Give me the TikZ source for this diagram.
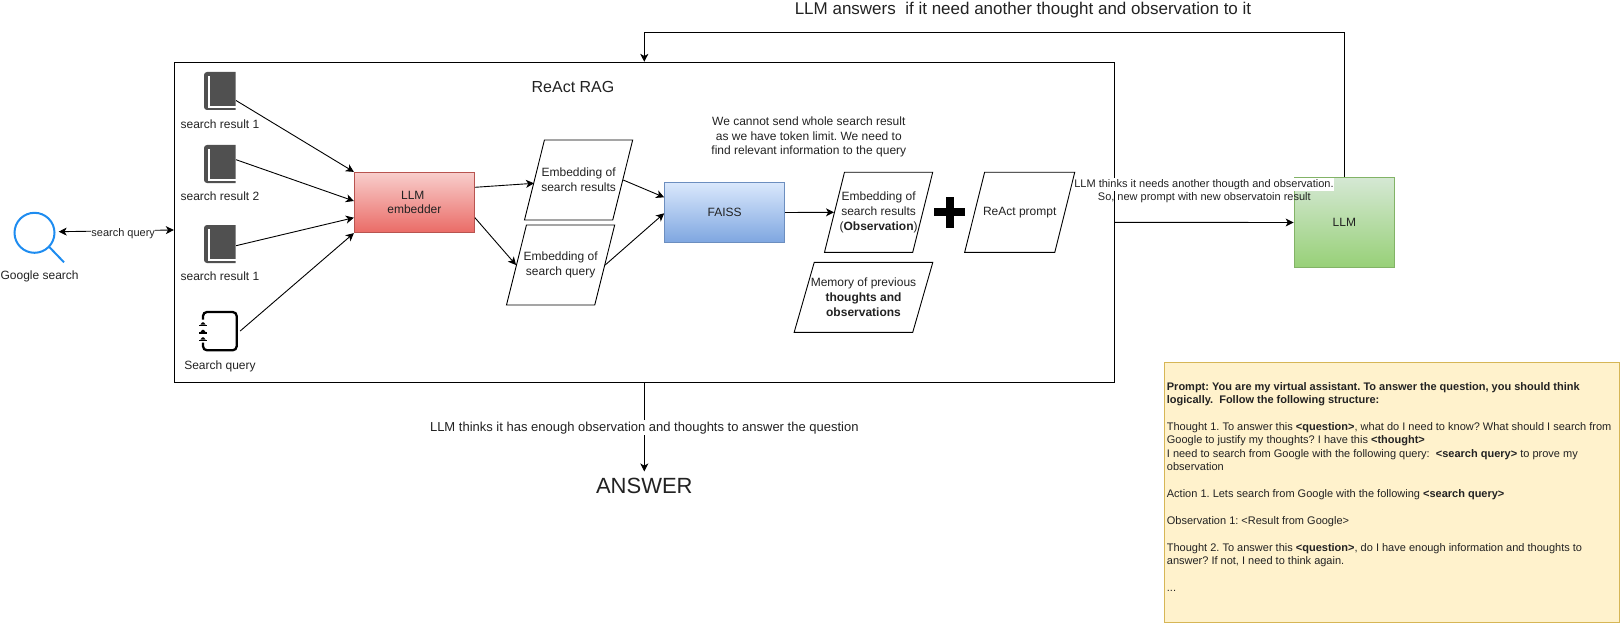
\documentclass[tikz,border=0pt]{standalone}
\usepackage{fontspec}
\setmainfont{Liberation Sans}
\usetikzlibrary{arrows.meta,shapes.geometric,shadings}
\AtBeginDocument{\frenchspacing}
\definecolor{bookgray}{HTML}{505050}
\definecolor{lensblue}{HTML}{1E8CF0}
\definecolor{redtop}{HTML}{F8CECC}\definecolor{redbot}{HTML}{EA6B66}\definecolor{redline}{HTML}{B85450}
\definecolor{bluetop}{HTML}{DAE8FC}\definecolor{bluebot}{HTML}{7EA6E0}\definecolor{blueline}{HTML}{6C8EBF}
\definecolor{greentop}{HTML}{D5E8D4}\definecolor{greenbot}{HTML}{97D077}\definecolor{greenline}{HTML}{82B366}
\definecolor{notefill}{HTML}{FFF2CC}\definecolor{noteline}{HTML}{D6B656}
\definecolor{inktext}{HTML}{222222}
\tikzset{
  every node/.style={text=inktext},
  fsa/.style={font=\fontsize{11}{13.42}\selectfont},
  fsb/.style={font=\fontsize{12}{14.7}\selectfont},
  fsc/.style={font=\fontsize{13}{16}\selectfont},
  fsd/.style={font=\fontsize{16}{18}\selectfont},
  fsf/.style={font=\fontsize{17}{19}\selectfont},
  fse/.style={font=\fontsize{22}{25}\selectfont},
  plain/.style={fsb,align=center,inner sep=0pt},
  arr/.style={-{Stealth[length=8pt,width=8pt,inset=2.2pt]},line width=0.9pt},
  darr/.style={{Stealth[length=8pt,width=8pt,inset=2.2pt]}-{Stealth[length=8pt,width=8pt,inset=2.2pt]},line width=0.9pt},
  para/.style={draw,line width=0.9pt,shape=trapezium,inner sep=0pt,
    trapezium left angle=#1,trapezium right angle=180-#1},
  icon/.style={inner sep=0pt,minimum width=31.7pt,minimum height=38pt},
  pics/bookicon/.style={code={
    \fill[bookgray] (15.7,-19) [rounded corners=3pt] -- (-16,-19) -- (-16,19) [sharp corners] -- (15.7,19) -- cycle;
    \fill[white] (-12.3,-15) rectangle (-10,14.7);
    \fill[white] (-12.3,14.7) rectangle (15.7,17);
  }},
  pics/noteicon/.style={code={
    \draw[line width=2.3pt,rounded corners=4pt]
      (-17,-11.5) -- (-17,-19) -- (16.7,-19) -- (16.7,19.3) -- (-17,19.3) -- (-17,11.7);
    \foreach \yy in {-8.7,-1.2,6.3}{
      \fill (-21,\yy+2.4) rectangle (-13,\yy+3.9);
      \fill (-19.6,\yy+2.4) -- (-14.4,\yy+2.4) -- (-16.2,\yy) -- (-17.8,\yy) -- cycle;
    }
  }}
}
\begin{document}
\begin{tikzpicture}[x=1pt,y=-1pt]
\useasboundingbox (0,0) rectangle (1620,623);

% main frame
\node[draw,line width=0.9pt,inner sep=0pt,minimum width=940pt,minimum height=320pt] (main) at (644.3,222.3) {};
\node[plain,fsd] (ragt) at (573,87) {ReAct RAG};

% left: search icon
\node[inner sep=0pt,minimum width=45pt,minimum height=51pt] (gsearch) at (36,237) {};
\draw[lensblue,line width=2pt] (34.5,232.8) circle[radius=20];
\draw[lensblue,line width=2pt] (49,246.7) -- (64,262.3);
\node[plain] (gsl) at (39.6,276) {Google search};

% sources
\node[icon] (b1) at (220,91) {};
\pic at (b1.center) {bookicon};
\node[plain] (b1l) at (220,124) {search result 1};
\node[icon] (b2) at (220,164) {};
\pic at (b2.center) {bookicon};
\node[plain] (b2l) at (220,196) {search result 2};
\node[icon] (b3) at (220,244) {};
\pic at (b3.center) {bookicon};
\node[plain] (b3l) at (220,276) {search result 1};
\node[inner sep=0pt,minimum width=40pt,minimum height=38pt] (nq) at (220,331) {};
\pic at (nq.center) {noteicon};
\node[plain] (nql) at (220,366) {Search query};

% boxes
\node[draw=redline,line width=0.8pt,top color=redtop,bottom color=redbot,
  plain,minimum width=120.2pt,minimum height=60.4pt] (emb) at (414.4,202.5) {LLM\hspace*{3.3pt}\\embedder};
\node[para=76,label={[plain]center:Embedding of\\search results}] (e1) at (578.6,180) {\phantom{\rule{68.3pt}{80pt}}};
\node[para=76,label={[plain]center:Embedding of\\search query}] (e2) at (560.6,265) {\phantom{\rule{68.3pt}{80pt}}};
\node[draw=blueline,line width=0.8pt,top color=bluetop,bottom color=bluebot,
  plain,minimum width=120.1pt,minimum height=60.4pt] (faiss) at (724.6,212.5) {FAISS};
\node[plain] (note) at (808.8,137.1) {We cannot send whole search result\\as we have token limit. We need to\\find relevant information to the query};
\node[para=76,label={[plain]center:Embedding of\\search results\\(\textbf{Observation})}] (obs) at (878.6,212.3) {\phantom{\rule{68.3pt}{80pt}}};
\node[para=76,label={[plain]center:ReAct prompt}] (rp) at (1019.7,212.3) {\phantom{\rule{70.2pt}{80pt}}};
\node[para=74,label={[plain]center:Memory of previous\\\textbf{thoughts and}\\\textbf{observations}}] (mem) at (863.5,297.3) {\phantom{\rule{98.5pt}{70pt}}};
\draw[line width=8pt] (949.5,197) -- (949.5,228);
\draw[line width=8pt] (934,212.3) -- (965,212.3);

% LLM
\node[draw=greenline,line width=0.8pt,top color=greentop,bottom color=greenbot,
  plain,minimum width=100.7pt,minimum height=90.4pt] (llm) at (1344.4,222.5) {LLM};

% answer
\node[plain,fse,text height=15.7pt,text depth=0pt,inner ysep=6.5pt] (ans) at (644.3,486) {ANSWER};

% connectors
\draw[darr] ([yshift=5.3pt]gsearch.east) -- node[pos=0.56,yshift=-2.5pt,fsa,fill=white,inner sep=0.5pt] (sq) {search query} ([yshift=-7.7pt]main.west);
\draw[arr] ([yshift=-9.5pt]b1.east) -- (emb.north west);
\draw[arr] ([yshift=4.3pt]b2.east) -- ([yshift=1.5pt]emb.west);
\draw[arr] ([yshift=-1.7pt]b3.east) -- ([yshift=-15.2pt]emb.west);
\draw[arr] (nq.east) -- (emb.south west);
\draw[arr] ([yshift=15.2pt]emb.east) -- ([yshift=-3.3pt]e1.west);
\draw[arr] ([yshift=-15.2pt]emb.east) -- (e2.west);
\draw[arr] (e1.east) -- ([yshift=15.2pt]faiss.west);
\draw[arr] (e2.east) -- ([yshift=-0.8pt]faiss.west);
\draw[arr] (faiss.east) -- (obs.west);
\draw[arr] (main.east) -- (llm.west);
\coordinate (fb) at (644.3,32.3);
\draw[arr] (llm.north) |- (fb) -- (main.north);
\draw[arr] (main.south) -- (ans.north);

% labels over connectors
\node[plain,fsa,fill=white,text height=9pt,text depth=3pt,inner ysep=0.5pt] (l1) at (1204,184) {LLM thinks it needs another thougth and observation.};
\node[plain,fsa] (l2) at (1204.3,197.3) {So, new prompt with new observatoin result};
\node[plain,fsc,fill=white,text height=10.5pt,text depth=3pt,inner ysep=0.8pt] (enough) at (644.3,427.3) {LLM thinks it has enough observation and thoughts to answer the question};
\node[plain,fsf] (top) at (1023,10.5) {LLM answers\ \ if it need another thought and observation to it};

% prompt box
\node[draw=noteline,line width=0.8pt,fill=notefill,
  inner sep=0pt,minimum width=455pt,minimum height=260pt] (pb) at (1391.8,492.7) {};
\node[fsa,align=left,inner sep=0pt,anchor=north west] (pt) at (1166.7,382) {\textbf{Prompt: You are my virtual assistant. To answer the question, you should think}\\
\textbf{logically.\ \ Follow the following structure:}\\[13.42pt]
Thought 1. To answer this \textbf{<question>}, what do I need to know? What should I search from\\
Google to justify my thoughts? I have this \textbf{<thought>}\\
I need to search from Google with the following query:\ \ \textbf{<search query>} to prove my\\
observation\\[13.42pt]
Action 1. Lets search from Google with the following \textbf{<search query>}\\[13.42pt]
Observation 1: <Result from Google>\\[13.42pt]
Thought 2. To answer this \textbf{<question>}, do I have enough information and thoughts to\\
answer? If not, I need to think again.\\[13.42pt]
...};
\end{tikzpicture}
\end{document}
